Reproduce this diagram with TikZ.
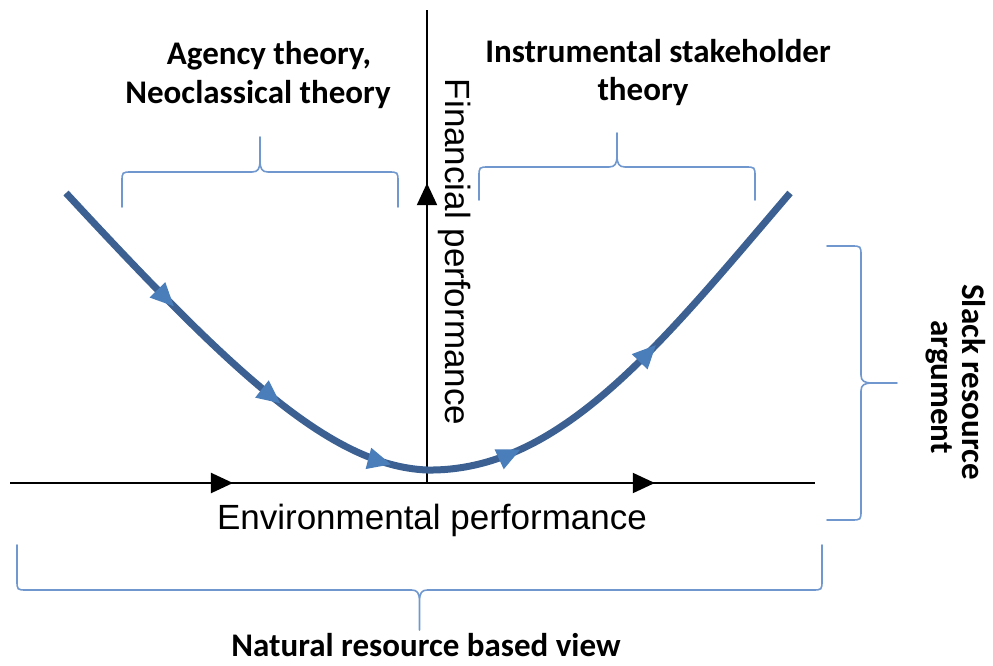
\documentclass[tikz,border=0pt]{standalone}
\usepackage{fontspec}
\setmainfont{Liberation Sans}
\newfontfamily\labelfont{Carlito}
\usetikzlibrary{arrows.meta,decorations.markings}

\definecolor{curveblue}{RGB}{59,96,145}
\definecolor{tipblue}{RGB}{74,126,187}
\definecolor{braceblue}{RGB}{112,152,206}

% horizontal curly brace: x1, x2, y of the ends, y of the bar, y of the tip, direction (+1 ends below bar, -1 ends above)
\newcommand\hbracepath[6]{%
  \draw[bracestyle] (#1,#3) -- (#1,{#4+(#6)*10}) .. controls (#1,#4) .. ({#1+10},#4)
    -- ({(#1+#2)/2-8},#4) .. controls ({(#1+#2)/2-2},#4) and ({(#1+#2)/2},{#4-(#6)*3}) .. ({(#1+#2)/2},{#4-(#6)*12})
    -- ({(#1+#2)/2},#5)
    ({(#1+#2)/2},{#4-(#6)*12}) .. controls ({(#1+#2)/2},{#4-(#6)*3}) and ({(#1+#2)/2+2},#4) .. ({(#1+#2)/2+8},#4)
    -- ({#2-10},#4) .. controls (#2,#4) .. (#2,{#4+(#6)*10}) -- (#2,#3);}
% vertical curly brace: y1, y2, x of the ends, x of the bar, x of the tip, direction (+1 ends right of bar, -1 ends left)
\newcommand\vbracepath[6]{%
  \draw[bracestyle] (#3,#1) -- ({#4+(#6)*10},#1) .. controls (#4,#1) .. (#4,{#1+10})
    -- (#4,{(#1+#2)/2-8}) .. controls (#4,{(#1+#2)/2-2}) and ({#4-(#6)*3},{(#1+#2)/2}) .. ({#4-(#6)*12},{(#1+#2)/2})
    -- (#5,{(#1+#2)/2})
    ({#4-(#6)*12},{(#1+#2)/2}) .. controls ({#4-(#6)*3},{(#1+#2)/2}) and (#4,{(#1+#2)/2+2}) .. (#4,{(#1+#2)/2+8})
    -- (#4,{#2-10}) .. controls (#4,#2) .. ({#4+(#6)*10},#2) -- (#3,#2);}

\tikzset{
  bracestyle/.style={line width=1.6pt, braceblue, line cap=round},
  axisline/.style={line width=2pt, black},
  labeltext/.style={font=\labelfont\bfseries\fontsize{33}{39}\selectfont, inner sep=0pt},
  axistext/.style={font=\fontsize{35}{42}\selectfont, inner sep=0pt},
  axishead/.tip={Triangle[width=20pt,length=22pt]},
  flowhead/.tip={Triangle[width=20pt,length=24pt,color=tipblue]},
}

\begin{document}
\begin{tikzpicture}[x=1pt,y=-1pt]
\useasboundingbox (0,0) rectangle (993,666);

% axes
\coordinate (origin) at (427,483);
\coordinate (ytop) at (427,10);
\coordinate (xleft) at (10,483);
\coordinate (xright) at (815,483);

\draw[axisline, postaction=decorate, decoration={markings,
    mark=at position 0.634 with {\arrow{axishead}}}] (origin) -- (ytop);
\draw[axisline, postaction=decorate, decoration={markings,
    mark=at position 0.277 with {\arrow{axishead}},
    mark=at position 0.801 with {\arrow{axishead}}}] (xleft) -- (xright);

% U-shaped relation
\coordinate (cstart) at (66,193);
\coordinate (cmin) at (427,470);
\coordinate (cend) at (790,193);
\draw[curveblue, line width=7pt, postaction=decorate, decoration={markings,
    mark=at position 0.168 with {\arrow{flowhead}},
    mark=at position 0.322 with {\arrow{flowhead}},
    mark=at position 0.458 with {\arrow{flowhead}},
    mark=at position 0.600 with {\arrow{flowhead}},
    mark=at position 0.784 with {\arrow{flowhead}}}]
  (cstart) .. controls (230,370) and (330,466) .. (cmin)
           .. controls (560,472) and (660,345) .. (cend);

% braces
\hbracepath{122}{398}{207}{172}{137}{1}
\hbracepath{479}{755}{200}{167}{133}{1}
\hbracepath{17}{822}{545}{590}{630}{-1}
\vbracepath{246}{520}{827}{861}{897}{-1}

% axis labels
\node[axistext, anchor=base] (envlab) at (432,529) {Environmental performance};
\node[axistext, anchor=base, rotate=-90] (finlab) at (445,252) {Financial performance};

% theory labels
\node[labeltext, anchor=base] (agency) at (269,65) {Agency theory,};
\node[labeltext, anchor=base] (neo) at (258,104) {Neoclassical theory};
\node[labeltext, anchor=base] (instr) at (658,63) {Instrumental stakeholder};
\node[labeltext, anchor=base] (instrb) at (643,101) {theory};
\node[labeltext, anchor=base, rotate=-90] (slack) at (962,382) {Slack resource};
\node[labeltext, anchor=base, rotate=-90] (slackb) at (931,387) {argument};
\node[labeltext, anchor=base] (nrbv) at (426,656) {Natural resource based view};
\end{tikzpicture}
\end{document}
